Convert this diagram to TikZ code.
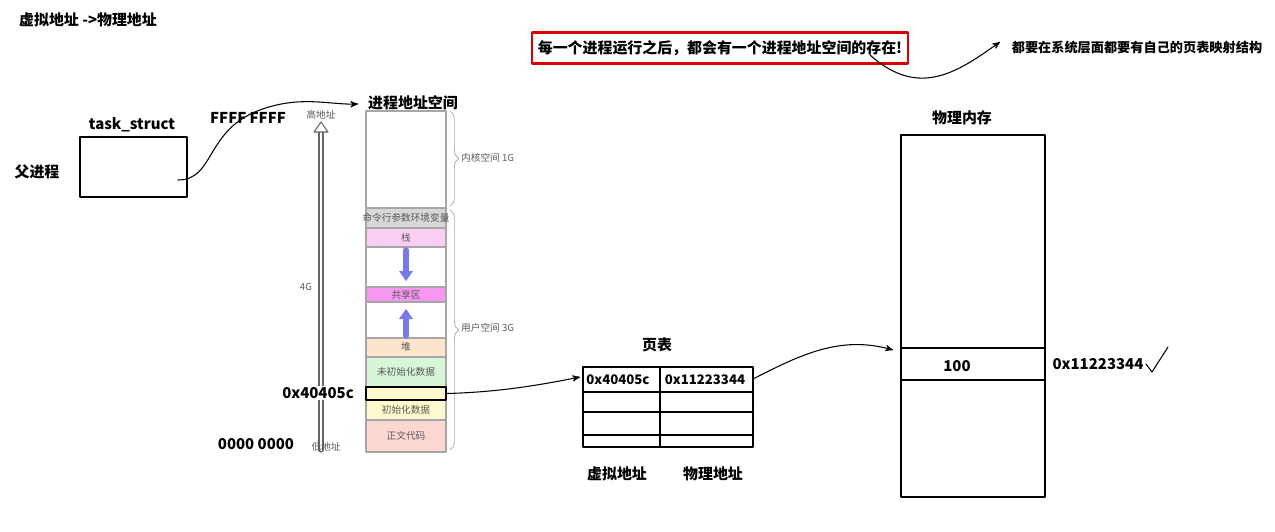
\documentclass[tikz,border=0pt]{standalone}
\usepackage{fontspec}
\setmainfont{Noto Sans CJK SC}
\usetikzlibrary{arrows,decorations.pathreplacing}
\definecolor{cmdgray}{RGB}{215,215,215}
\definecolor{stackpink}{RGB}{250,205,245}
\definecolor{sharepink}{RGB}{245,150,240}
\definecolor{heaporange}{RGB}{252,228,205}
\definecolor{bssgreen}{RGB}{215,245,215}
\definecolor{datayellow}{RGB}{252,250,205}
\definecolor{textred}{RGB}{252,215,210}
\definecolor{arrowblue}{RGB}{120,120,230}
\tikzset{
  seg/.style={draw=gray!70,line width=0.6pt},
  tiny/.style={font=\fontsize{5.5}{6.5}\selectfont,text=gray!70!black},
  lbl/.style={font=\bfseries\fontsize{8.5}{10}\selectfont},
  cell/.style={font=\bfseries\fontsize{7.5}{9}\selectfont},
  thick box/.style={draw,line width=1.6pt},
  pen/.style={line width=0.6pt,->,>=stealth'}
}
\begin{document}
\begin{tikzpicture}[x=0.02cm,y=-0.02cm,line cap=round,line join=round]
\useasboundingbox (0,0) rectangle (1275,531);
% titles
\node[lbl] (title) at (88,20) {虚拟地址 ->物理地址};
\node[draw=red!85!black,line width=1.4pt,minimum width=7.52cm,minimum height=0.62cm,lbl] (note) at (720,48) {每一个进程运行之后，都会有一个进程地址空间的存在!};
\node[cell] (note2) at (1137,47) {都要在系统层面都要有自己的页表映射结构};
\coordinate (noteend) at (1000,42);
\draw[pen] (870,55) .. controls (920,100) and (960,70) .. (noteend);
% task_struct
\node[thick box,minimum width=2.14cm,minimum height=1.2cm] (task) at (133.5,167) {};
\node[lbl] (tasklbl) at (132,125) {task\_struct};
\node[lbl] (parent) at (37,172) {父进程};
\coordinate (spacetop) at (358,104);
\draw[pen] (178,180) .. controls (215,180) and (205,130) .. (260,110) .. controls (300,95) and (330,105) .. (spacetop);
\node[lbl] (ffff) at (248,118) {FFFF FFFF};
\node[lbl] (zero) at (256,444) {0000 0000};
% address axis
\draw[gray!80!black,line width=3pt] (321,450) -- (321,132);
\draw[white,line width=1.6pt] (321,450) -- (321,131);
\draw[gray!80!black,line width=0.6pt,fill=white] (314,132) -- (321,122) -- (328,132) -- cycle;
\node[tiny] (high) at (321,115) {高地址};
\node[tiny] (low) at (326,447) {低地址};
\node[tiny] (fourg) at (306,287) {4G};
\node[lbl,anchor=east,fill=white,inner ysep=1pt] (addr) at (360,393) {0x40405c};
% process address space
\node[lbl] (spacelbl) at (413,103) {进程地址空间};
\draw[seg] (366,111) rectangle (446,208);
\draw[seg,fill=cmdgray] (366,208) rectangle (446,228);
\draw[seg,fill=stackpink] (366,228) rectangle (446,247);
\draw[seg] (366,247) rectangle (446,287);
\draw[seg,fill=sharepink] (366,287) rectangle (446,302);
\draw[seg] (366,302) rectangle (446,338);
\draw[seg,fill=heaporange] (366,338) rectangle (446,357);
\draw[seg,fill=bssgreen] (366,357) rectangle (446,387);
\draw[seg,fill=datayellow] (366,387) rectangle (446,420);
\draw[seg,fill=textred] (366,420) rectangle (446,452);
\node[tiny] (cmd) at (406,218) {命令行参数环境变量};
\node[tiny] (stack) at (406,238) {栈};
\node[tiny] (share) at (406,294.5) {共享区};
\node[tiny] (heap) at (406,347) {堆};
\node[tiny] (bss) at (406,372) {未初始化数据};
\node[tiny] (data) at (406,410) {初始化数据};
\node[tiny] (text) at (406,436) {正文代码};
\node[draw,line width=1.6pt,minimum width=1.6cm,minimum height=0.26cm] (hit) at (406,393.5) {};
\draw[arrowblue,line width=3pt] (406,250) -- (406,272);
\fill[arrowblue] (399,271) -- (413,271) -- (406,281) -- cycle;
\draw[arrowblue,line width=3pt] (406,336) -- (406,318);
\fill[arrowblue] (399,319) -- (413,319) -- (406,309) -- cycle;
\draw[decorate,decoration={brace,amplitude=5pt},gray!70] (450,111) -- (450,206);
\draw[decorate,decoration={brace,amplitude=5pt},gray!70] (450,210) -- (450,450);
\node[tiny,anchor=west] (kernel) at (455,158) {内核空间 1G};
\node[tiny,anchor=west] (user) at (455,328) {用户空间 3G};
% page table
\node[lbl] (tablelbl) at (657,345) {页表};
\draw[line width=1.6pt] (583,367) rectangle (753,447);
\foreach \y in {392,412,435} \draw[line width=1.2pt] (583,\y) -- (753,\y);
\draw[line width=1.2pt] (660,367) -- (660,447);
\node[cell] (vaddr) at (618,380) {0x40405c};
\node[cell] (paddr) at (705,380) {0x11223344};
\node[lbl] (vcol) at (617,474) {虚拟地址};
\node[lbl] (pcol) at (713,474) {物理地址};
\coordinate (tablein) at (580,377);
\coordinate (tableout) at (753,379);
\draw[pen] (hit.east) .. controls (500,392) and (540,385) .. (tablein);
% physical memory
\node[lbl] (memlbl) at (962,118) {物理内存};
\draw[line width=1.6pt] (901,135) rectangle (1045,497);
\draw[line width=1.6pt] (901,348) -- (1045,348) (901,380) -- (1045,380);
\node[lbl] (val) at (957,366) {100};
\node[lbl] (memaddr) at (1098,364) {0x11223344};
\draw[line width=0.6pt] (1146,364) -- (1152,372) -- (1168,347);
\coordinate (memin) at (893,350);
\draw[pen] (tableout) .. controls (800,355) and (840,335) .. (memin);
\end{tikzpicture}
\end{document}
